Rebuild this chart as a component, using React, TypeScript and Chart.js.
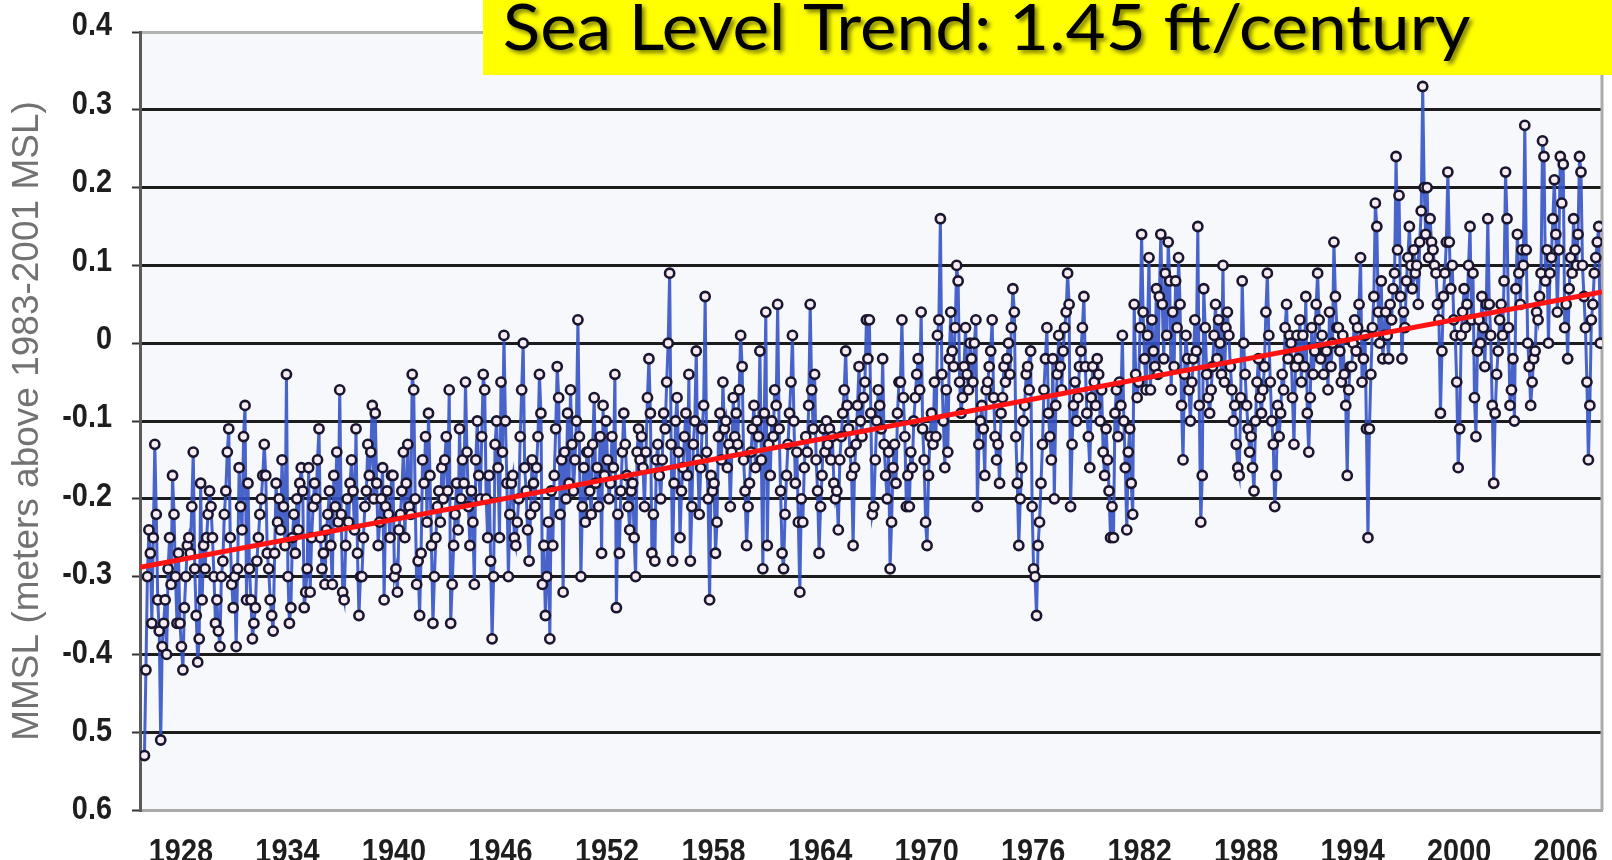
import { useEffect, useRef } from 'react';
import { Chart, registerables } from 'chart.js';

Chart.register(...registerables);

// ---------------- DATA ----------------
const START_YEAR = 1926; // first monthly value is January 1926

// Monthly mean sea level (m above 1983-2001 MSL), one row per year, Jan..Dec
const mmsl1926to1935 = [
  -0.53, -0.42, -0.30, -0.24, -0.27, -0.36, -0.25, -0.13, -0.22, -0.33, -0.37, -0.51,
  -0.39, -0.36, -0.33, -0.40, -0.29, -0.25, -0.31, -0.17, -0.22, -0.30, -0.36, -0.27,
  -0.36, -0.39, -0.42, -0.34, -0.30, -0.26, -0.25, -0.27, -0.21, -0.14, -0.29, -0.35,
  -0.41, -0.38, -0.18, -0.33, -0.26, -0.29, -0.25, -0.22, -0.19, -0.21, -0.25, -0.30,
  -0.36, -0.33, -0.37, -0.39, -0.30, -0.28, -0.22, -0.19, -0.14, -0.11, -0.25, -0.31,
  -0.34, -0.30, -0.39, -0.29, -0.16, -0.21, -0.24, -0.12, -0.08, -0.33, -0.18, -0.29,
  -0.33, -0.38, -0.36, -0.34, -0.28, -0.25, -0.22, -0.20, -0.17, -0.13, -0.17, -0.27,
  -0.29, -0.33, -0.35, -0.37, -0.27, -0.18, -0.23, -0.20, -0.24, -0.15, -0.21, -0.26,
  -0.04, -0.30, -0.36, -0.34, -0.25, -0.22, -0.27, -0.20, -0.24, -0.18, -0.16, -0.19,
  -0.34, -0.32, -0.29, -0.16, -0.32, -0.25, -0.21, -0.18, -0.20, -0.15, -0.11, -0.25,
];
const mmsl1936to1945 = [
  -0.29, -0.27, -0.31, -0.24, -0.22, -0.19, -0.26, -0.31, -0.17, -0.21, -0.14, -0.23,
  -0.06, -0.22, -0.32, -0.33, -0.26, -0.20, -0.23, -0.18, -0.15, -0.19, -0.24, -0.11,
  -0.27, -0.35, -0.30, -0.30, -0.25, -0.21, -0.19, -0.13, -0.17, -0.14, -0.08, -0.20,
  -0.09, -0.18, -0.26, -0.23, -0.20, -0.16, -0.33, -0.21, -0.19, -0.22, -0.25, -0.17,
  -0.17, -0.30, -0.29, -0.32, -0.24, -0.22, -0.19, -0.14, -0.25, -0.18, -0.13, -0.21,
  -0.22, -0.04, -0.06, -0.20, -0.31, -0.28, -0.35, -0.27, -0.15, -0.18, -0.12, -0.23,
  -0.09, -0.17, -0.26, -0.36, -0.30, -0.25, -0.21, -0.19, -0.23, -0.16, -0.20, -0.15,
  -0.12, -0.19, -0.06, -0.36, -0.31, -0.26, -0.22, -0.18, -0.24, -0.11, -0.20, -0.15,
  -0.18, -0.05, -0.14, -0.21, -0.26, -0.19, -0.23, -0.31, -0.15, -0.10, -0.17, -0.20,
  -0.12, -0.04, -0.06, -0.20, -0.25, -0.17, -0.28, -0.38, -0.30, -0.13, -0.10, -0.16,
];
const mmsl1946to1955 = [
  -0.25, -0.05, -0.14, 0.01, -0.10, -0.18, -0.30, -0.22, -0.18, -0.17, -0.25, -0.26,
  -0.23, -0.20, -0.12, -0.06, 0.00, -0.16, -0.19, -0.24, -0.28, -0.22, -0.15, -0.18,
  -0.21, -0.16, -0.12, -0.04, -0.09, -0.31, -0.26, -0.35, -0.30, -0.23, -0.38, -0.19,
  -0.26, -0.17, -0.11, -0.03, -0.07, -0.22, -0.15, -0.32, -0.14, -0.20, -0.09, -0.18,
  -0.06, -0.13, -0.19, -0.15, -0.10, 0.03, -0.12, -0.30, -0.21, -0.16, -0.23, -0.14,
  -0.14, -0.19, -0.22, -0.13, -0.07, -0.18, -0.16, -0.21, -0.12, -0.27, -0.08, -0.17,
  -0.10, -0.15, -0.20, -0.18, -0.12, -0.16, -0.04, -0.34, -0.22, -0.27, -0.19, -0.14,
  -0.09, -0.13, -0.17, -0.21, -0.24, -0.19, -0.18, -0.25, -0.30, -0.14, -0.11, -0.15,
  -0.12, -0.16, -0.21, -0.14, -0.07, -0.02, -0.09, -0.27, -0.22, -0.28, -0.15, -0.13,
  -0.17, -0.20, -0.15, -0.09, -0.11, -0.05, 0.00, 0.09, -0.13, -0.28, -0.18, -0.10,
];
const mmsl1956to1965 = [
  -0.07, -0.14, -0.25, -0.19, -0.16, -0.12, -0.09, -0.17, -0.04, -0.28, -0.21, -0.13,
  -0.10, -0.01, -0.15, -0.22, -0.16, -0.11, -0.08, 0.06, -0.14, -0.20, -0.33, -0.17,
  -0.19, -0.18, -0.27, -0.23, -0.12, -0.09, -0.15, -0.05, -0.11, -0.10, -0.16, -0.13,
  -0.21, -0.14, -0.07, -0.12, -0.09, -0.13, -0.06, 0.01, -0.03, -0.15, -0.19, -0.26,
  -0.21, -0.18, -0.14, -0.11, -0.08, -0.16, -0.10, -0.12, -0.01, -0.15, -0.29, -0.09,
  0.04, -0.26, -0.13, -0.17, -0.10, -0.12, -0.06, -0.08, 0.05, -0.11, -0.19, -0.27,
  -0.29, -0.22, -0.17, -0.13, -0.09, -0.05, 0.01, -0.10, -0.18, -0.14, -0.23, -0.32,
  -0.20, -0.23, -0.16, -0.12, -0.14, -0.08, 0.05, -0.06, -0.11, -0.04, -0.15, -0.19,
  -0.27, -0.21, -0.17, -0.11, -0.14, -0.10, -0.13, -0.11, -0.15, -0.12, -0.18, -0.20,
  -0.19, -0.24, -0.15, -0.12, -0.09, -0.06, -0.01, -0.08, -0.11, -0.14, -0.17, -0.26,
];
const mmsl1966to1975 = [
  -0.16, -0.13, -0.08, -0.03, -0.10, -0.12, -0.07, -0.05, 0.03, -0.02, 0.03, -0.09,
  -0.22, -0.21, -0.15, -0.10, -0.06, -0.08, -0.11, -0.02, -0.13, -0.17, -0.20, -0.14,
  -0.29, -0.23, -0.16, -0.13, -0.18, -0.09, -0.05, -0.05, 0.03, -0.07, -0.12, -0.21,
  -0.17, -0.21, -0.14, -0.16, -0.10, -0.07, -0.04, -0.02, -0.06, 0.04, -0.11, -0.15,
  -0.23, -0.26, -0.17, -0.12, -0.09, -0.13, -0.05, -0.12, 0.01, 0.03, 0.16, -0.04,
  -0.10, -0.16, -0.06, -0.14, -0.02, 0.04, -0.01, -0.03, 0.02, 0.10, 0.08, -0.05,
  -0.09, -0.07, -0.03, 0.02, -0.04, -0.06, 0.00, -0.02, -0.05, 0.00, 0.03, -0.21,
  -0.13, -0.10, -0.08, -0.11, -0.17, -0.06, -0.05, -0.03, -0.01, 0.03, -0.07, -0.12,
  -0.15, -0.13, -0.18, -0.09, -0.07, -0.03, -0.05, -0.02, 0.00, -0.04, 0.02, 0.07,
  0.04, -0.12, -0.18, -0.26, -0.20, -0.16, -0.10, -0.08, -0.04, -0.03, -0.06, -0.01,
];
const mmsl1976to1985 = [
  -0.21, -0.29, -0.30, -0.35, -0.26, -0.23, -0.18, -0.13, -0.06, -0.02, 0.02, -0.09,
  -0.12, -0.15, -0.02, -0.20, -0.08, -0.04, 0.01, -0.03, -0.06, -0.01, 0.02, 0.04,
  0.09, 0.05, -0.21, -0.13, -0.08, -0.05, -0.10, -0.07, -0.03, -0.01, 0.02, 0.06,
  -0.03, -0.09, -0.12, -0.16, -0.07, -0.03, -0.05, -0.08, -0.02, -0.04, -0.10, -0.06,
  -0.14, -0.17, -0.11, -0.15, -0.19, -0.25, -0.21, -0.25, -0.09, -0.06, -0.12, -0.05,
  -0.08, 0.01, -0.10, -0.16, -0.24, -0.14, -0.11, -0.18, -0.22, 0.05, -0.04, -0.07,
  -0.05, 0.02, 0.14, 0.04, -0.02, -0.06, 0.01, 0.11, -0.06, 0.03, -0.01, -0.03,
  0.07, -0.04, 0.06, 0.14, 0.05, -0.02, 0.09, 0.01, 0.13, 0.08, -0.06, 0.04,
  -0.03, 0.08, 0.02, 0.11, 0.05, -0.08, -0.15, -0.04, 0.01, -0.02, -0.06, -0.10,
  -0.05, -0.02, 0.03, -0.01, 0.15, -0.08, -0.23, -0.17, 0.07, 0.02, -0.04, -0.07,
];
const mmsl1986to1995 = [
  -0.09, -0.06, -0.03, 0.01, 0.05, -0.02, 0.03, 0.00, -0.04, 0.10, -0.05, 0.02,
  0.04, 0.01, -0.03, -0.06, -0.10, -0.08, -0.13, -0.16, -0.17, -0.07, 0.08, 0.00,
  -0.04, -0.08, -0.11, -0.14, -0.12, -0.16, -0.19, -0.10, -0.05, -0.02, -0.07, -0.09,
  -0.06, -0.03, 0.04, 0.09, 0.01, -0.05, -0.10, -0.13, -0.21, -0.17, -0.08, -0.12,
  -0.09, -0.04, -0.06, 0.02, 0.05, -0.02, 0.01, 0.00, -0.07, -0.13, -0.03, 0.01,
  -0.02, 0.03, -0.05, 0.01, -0.03, 0.06, -0.09, -0.14, -0.07, 0.02, -0.04, -0.01,
  0.05, 0.09, 0.03, -0.02, 0.01, -0.04, -0.01, -0.01, -0.06, 0.04, -0.03, 0.00,
  0.13, 0.06, 0.02, 0.02, -0.01, -0.05, 0.01, -0.04, -0.08, -0.17, -0.06, -0.03,
  -0.03, 0.00, 0.03, -0.01, 0.02, 0.05, 0.11, -0.05, -0.02, 0.01, -0.11, -0.25,
  -0.11, -0.04, 0.02, 0.06, 0.18, 0.15, 0.04, 0.00, 0.08, -0.02, 0.01, 0.04,
];
const mmsl1996to2008 = [
  0.01, -0.02, 0.05, 0.03, 0.07, 0.09, 0.24, 0.12, 0.19, 0.06, -0.02, 0.04,
  0.02, 0.08, 0.11, 0.15, 0.10, 0.07, 0.12, 0.09, 0.10, 0.05, 0.13, 0.17,
  0.33, 0.20, 0.14, 0.20, 0.11, 0.16, 0.13, 0.12, 0.10, 0.09, 0.05, 0.03,
  -0.09, -0.01, 0.06, 0.09, 0.13, 0.22, 0.13, 0.07, 0.10, 0.03, 0.01, -0.05,
  -0.16, -0.11, 0.01, 0.04, 0.07, 0.02, 0.05, 0.10, 0.15, 0.03, 0.09, -0.07,
  -0.12, -0.01, 0.03, 0.00, 0.06, 0.02, -0.03, 0.05, 0.16, 0.05, 0.01, -0.08,
  -0.18, -0.09, -0.04, -0.01, 0.03, 0.05, 0.01, 0.08, 0.22, 0.16, 0.02, -0.08,
  -0.06, -0.02, -0.10, 0.07, 0.14, 0.09, 0.05, 0.12, 0.10, 0.28, 0.12, 0.00,
  -0.03, -0.08, -0.05, -0.02, -0.01, 0.04, 0.03, 0.06, 0.09, 0.26, 0.24, 0.08,
  0.12, 0.00, 0.09, 0.11, 0.16, 0.21, 0.14, 0.04, 0.12, 0.24, 0.18, 0.23,
  0.02, 0.05, -0.02, 0.07, 0.11, 0.09, 0.16, 0.12, 0.10, 0.14, 0.24, 0.22,
  0.10, 0.06, 0.02, -0.05, -0.15, -0.08, 0.03, 0.05, 0.09, 0.11, 0.13, 0.15,
  0.00,
];

// Linear trend line end points
const trendYears = [1925.75, 2008.1];
const trendValues = [-0.288, 0.066];

// Axis ticks
const xTickYears = [1928, 1934, 1940, 1946, 1952, 1958, 1964, 1970, 1976, 1982, 1988, 1994, 2000, 2006];
const yTickValues = [-0.6, -0.5, -0.4, -0.3, -0.2, -0.1, 0, 0.1, 0.2, 0.3, 0.4];
const yTickLabels = ['0.6', '0.5', '-0.4', '-0.3', '-0.2', '-0.1', '0', '0.1', '0.2', '0.3', '0.4'];

const titleText = 'Sea Level Trend: 1.45 ft/century';
const yAxisTitle = 'MMSL (meters above 1983-2001 MSL)';

// ---------------- CHART ----------------
const W = 1612;
const H = 860;
const TICK_FONT = "bold 34px 'Liberation Sans', Arial, sans-serif";
const NARROW = 0.85;

const backgroundPlugin = {
  id: 'bgPlugin',
  beforeDraw(chart: any) {
    const { ctx, chartArea } = chart;
    ctx.save();
    ctx.fillStyle = '#ffffff';
    ctx.fillRect(0, 0, chart.width, chart.height);
    ctx.fillStyle = '#f7f8fb';
    ctx.fillRect(chartArea.left, chartArea.top, chartArea.right - chartArea.left, chartArea.bottom - chartArea.top);
    ctx.restore();
  },
  beforeDatasetsDraw(chart: any) {
    const { ctx, chartArea } = chart;
    ctx.save();
    ctx.strokeStyle = '#ababab';
    ctx.lineWidth = 3;
    ctx.beginPath();
    ctx.moveTo(chartArea.right, chartArea.top);
    ctx.lineTo(chartArea.right, chartArea.bottom);
    ctx.stroke();
    ctx.restore();
  },
};

// Condensed tick labels, placed with the chart's own scales
const narrowTicksPlugin = {
  id: 'narrowTicks',
  afterDraw(chart: any) {
    const { ctx, scales } = chart;
    const xs = scales.x;
    const ys = scales.y;
    ctx.save();
    ctx.font = TICK_FONT;
    ctx.fillStyle = '#1e1e1e';
    ctx.textAlign = 'right';
    ctx.textBaseline = 'middle';
    yTickValues.forEach((v, i) => {
      const py = ys.getPixelForValue(v) - 6 * (v + 0.6);
      ctx.save();
      ctx.translate(ys.right - 28, py);
      ctx.scale(NARROW, 1);
      ctx.fillText(yTickLabels[i], 0, 0);
      ctx.restore();
    });
    ctx.textAlign = 'center';
    ctx.textBaseline = 'alphabetic';
    xTickYears.forEach((yr) => {
      const px = xs.getPixelForValue(yr) + 1;
      ctx.save();
      ctx.translate(px, xs.top + 52);
      ctx.scale(NARROW, 1);
      ctx.fillText(String(yr), 0, 0);
      ctx.restore();
    });
    ctx.restore();
  },
};

const titleBoxPlugin = {
  id: 'titleBox',
  afterDraw(chart: any) {
    const { ctx } = chart;
    const boxLeft = 483;
    const boxBottom = 75;
    ctx.save();
    ctx.fillStyle = '#ffff00';
    ctx.fillRect(boxLeft, 0, chart.width - boxLeft, boxBottom);
    const size = 63;
    ctx.font = `400 ${size}px Lato, 'Open Sans', 'Noto Sans', sans-serif`;
    ctx.textBaseline = 'alphabetic';
    ctx.textAlign = 'left';
    const m = ctx.measureText(titleText);
    const ink = m.actualBoundingBoxLeft + m.actualBoundingBoxRight;
    const targetLeft = 505;
    const targetRight = 1470;
    const sx = (targetRight - targetLeft) / ink;
    ctx.shadowColor = 'rgba(40,40,0,0.6)';
    ctx.shadowOffsetX = 3;
    ctx.shadowOffsetY = 3;
    ctx.shadowBlur = 4;
    ctx.fillStyle = '#000000';
    ctx.translate(targetLeft + m.actualBoundingBoxLeft * sx, 50);
    ctx.scale(sx, 1);
    ctx.fillText(titleText, 0, 0);
    ctx.restore();
  },
};

const isEdge = (v: number) => Math.abs(v - 0.4) < 1e-6 || Math.abs(v + 0.6) < 1e-6;

export default function App() {
  const canvasRef = useRef<HTMLCanvasElement | null>(null);

  useEffect(() => {
    const canvas = canvasRef.current;
    if (!canvas) return;
    const values = [
      ...mmsl1926to1935,
      ...mmsl1936to1945,
      ...mmsl1946to1955,
      ...mmsl1956to1965,
      ...mmsl1966to1975,
      ...mmsl1976to1985,
      ...mmsl1986to1995,
      ...mmsl1996to2008,
    ];
    const seriesPoints = values.map((v, i) => ({ x: START_YEAR + i / 12, y: v }));
    const trendPoints = trendYears.map((x, i) => ({ x, y: trendValues[i] }));

    const chart = new Chart(canvas, {
      type: 'line',
      data: {
        datasets: [
          {
            label: 'Trend',
            data: trendPoints,
            borderColor: '#ff1414',
            borderWidth: 5,
            pointRadius: 0,
            order: 0,
          },
          {
            label: 'MMSL',
            data: seriesPoints,
            borderColor: 'rgba(52,82,196,0.9)',
            borderWidth: 3,
            pointRadius: 4.6,
            pointBorderWidth: 2.6,
            pointBorderColor: '#1b1630',
            pointBackgroundColor: '#f6ecf2',
            tension: 0,
            order: 1,
          },
        ],
      },
      options: {
        animation: false,
        responsive: false,
        devicePixelRatio: 1,
        events: [],
        layout: { padding: { top: 32, right: 10, left: 0, bottom: 0 } },
        plugins: {
          legend: { display: false },
          tooltip: { enabled: false },
        },
        scales: {
          x: {
            type: 'linear',
            min: trendYears[0],
            max: trendYears[1],
            afterBuildTicks: (axis: any) => {
              axis.ticks = xTickYears.map((v) => ({ value: v }));
            },
            afterFit: (axis: any) => {
              axis.height = 50;
            },
            grid: { display: false },
            border: { display: true, color: '#a8a8a8', width: 3 },
            ticks: { display: false, autoSkip: false, callback: (v: any) => String(v) },
          },
          y: {
            type: 'linear',
            min: -0.6,
            max: 0.4,
            afterBuildTicks: (axis: any) => {
              axis.ticks = yTickValues.map((v) => ({ value: v }));
            },
            afterFit: (axis: any) => {
              axis.width = 140;
            },
            grid: {
              display: true,
              color: (c: any) => (isEdge(c.tick?.value ?? 0) ? '#b2b2b2' : '#1c1c1c'),
              lineWidth: 3,
              drawTicks: true,
              tickLength: 8,
              tickColor: '#333333',
              tickWidth: 2,
            },
            border: { display: true, color: '#5a5a5a', width: 3 },
            ticks: {
              display: false,
              autoSkip: false,
              callback: (v: any) => {
                const idx = yTickValues.findIndex((t) => Math.abs(t - Number(v)) < 1e-6);
                return idx >= 0 ? yTickLabels[idx] : '';
              },
            },
            title: {
              display: true,
              text: yAxisTitle,
              color: '#727272',
              font: { family: "'Liberation Sans', Arial, sans-serif", size: 37, weight: 'normal' },
              padding: { top: 6, bottom: 0 },
            },
          },
        },
      },
      plugins: [backgroundPlugin, narrowTicksPlugin, titleBoxPlugin],
    } as any);

    return () => {
      chart.destroy();
    };
  }, []);

  return (
    <div style={{ position: 'absolute', left: 0, top: 0, width: W, height: H, background: '#fff', overflow: 'hidden' }}>
      <canvas ref={canvasRef} width={W} height={H} style={{ width: W, height: H, display: 'block' }} />
    </div>
  );
}
